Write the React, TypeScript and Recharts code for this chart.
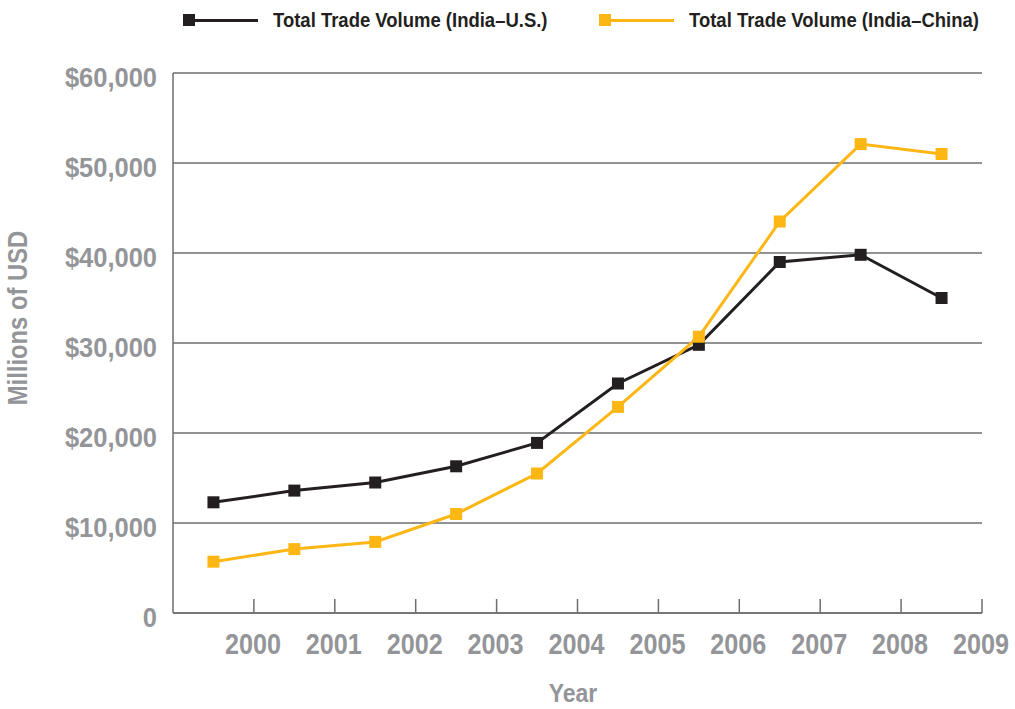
import React from 'react';
import { LineChart, Line, XAxis, YAxis, CartesianGrid } from 'recharts';

const periods = [1999.5, 2000.5, 2001.5, 2002.5, 2003.5, 2004.5, 2005.5, 2006.5, 2007.5, 2008.5];
const indiaUS = [12300, 13600, 14500, 16300, 18900, 25500, 29800, 39000, 39800, 35000];
const indiaChina = [5700, 7100, 7900, 11000, 15500, 22900, 30700, 43500, 52100, 51000];
const yearTicks = [2000, 2001, 2002, 2003, 2004, 2005, 2006, 2007, 2008, 2009];
const valueTicks = [0, 10000, 20000, 30000, 40000, 50000, 60000];

const data = periods.map((p, i) => ({ period: p, us: indiaUS[i], china: indiaChina[i] }));

const FONT = '"Liberation Sans", Arial, Helvetica, sans-serif';
const GRAY = '#939598';
const BLACK = '#231f20';
const YELLOW = '#fdb714';
const GRID = '#6d6e71';

const fmtMoney = (v: number) => (v === 0 ? '0' : '$' + v.toLocaleString('en-US'));

const SquareDot = (color: string) => (props: any) => {
  const { cx, cy, index } = props;
  if (cx == null || cy == null) return null;
  return <rect key={index} x={cx - 6} y={cy - 6} width={12} height={12} fill={color} />;
};

// narrow bold text, squeezed horizontally
const NarrowText = ({ x, y, sx, size, anchor, fill, children }: any) => (
  <text
    transform={`translate(${x},${y}) scale(${sx},1)`}
    textAnchor={anchor}
    fill={fill}
    fontFamily={FONT}
    fontWeight="bold"
    fontSize={size}
  >
    {children}
  </text>
);

const YearTick = (props: any) => {
  const { x, y, payload } = props;
  return (
    <g>
      <line x1={x} y1={y} x2={x} y2={y - 14} stroke={GRID} strokeWidth={1.5} />
      <NarrowText x={x - 1} y={y + 41} sx={0.84} size={30} anchor="middle" fill={GRAY}>
        {payload.value}
      </NarrowText>
    </g>
  );
};

const ValueTick = (props: any) => {
  const { x, y, payload } = props;
  return (
    <NarrowText x={x - 16} y={y + 14} sx={0.91} size={28} anchor="end" fill={GRAY}>
      {fmtMoney(payload.value)}
    </NarrowText>
  );
};

const LegendItem = ({ color, label, left }: { color: string; label: string; left: number }) => (
  <div style={{ position: 'absolute', left, top: 7, display: 'flex', alignItems: 'center', height: 26 }}>
    <div style={{ width: 12, height: 12, background: color }} />
    <div style={{ width: 63, height: 3, background: color }} />
    <span
      style={{
        marginLeft: 15,
        fontFamily: FONT,
        fontWeight: 'bold',
        fontSize: 21,
        color: BLACK,
        whiteSpace: 'nowrap',
        display: 'inline-block',
        transform: 'scaleX(0.88)',
        transformOrigin: 'left center',
      }}
    >
      {label}
    </span>
  </div>
);

export default function App() {
  return (
    <div style={{ position: 'absolute', left: 0, top: 0, width: 1015, height: 709, background: '#fff', overflow: 'hidden' }}>
      <LineChart width={1015} height={709} data={data} margin={{ top: 73, right: 33, bottom: 0, left: 0 }}>
        <CartesianGrid vertical={false} stroke={GRID} strokeWidth={1.5} />
        <XAxis
          dataKey="period"
          type="number"
          domain={[1999, 2009]}
          ticks={yearTicks}
          interval={0}
          height={96}
          tickSize={0}
          tickMargin={0}
          tickLine={false}
          axisLine={{ stroke: GRID, strokeWidth: 1.5 }}
          tick={<YearTick />}
        />
        <YAxis
          type="number"
          domain={[0, 60000]}
          ticks={valueTicks}
          interval={0}
          width={173}
          tickSize={0}
          tickMargin={0}
          tickLine={false}
          axisLine={{ stroke: GRID, strokeWidth: 1.5 }}
          tick={<ValueTick />}
        />
        <Line dataKey="us" stroke={BLACK} strokeWidth={3} dot={SquareDot(BLACK)} isAnimationActive={false} />
        <Line dataKey="china" stroke={YELLOW} strokeWidth={3} dot={SquareDot(YELLOW)} isAnimationActive={false} />
      </LineChart>
      <LegendItem color={BLACK} label="Total Trade Volume (India–U.S.)" left={183} />
      <LegendItem color={YELLOW} label="Total Trade Volume (India–China)" left={599} />
      <div
        style={{
          position: 'absolute',
          left: 18,
          top: 318,
          transform: 'translate(-50%, -50%) rotate(-90deg) scaleX(0.85)',
          whiteSpace: 'nowrap',
          fontFamily: FONT,
          fontWeight: 'bold',
          fontSize: 28,
          color: GRAY,
        }}
      >
        Millions of USD
      </div>
      <div
        style={{
          position: 'absolute',
          left: 573,
          top: 693,
          transform: 'translate(-50%, -50%) scaleX(0.92)',
          whiteSpace: 'nowrap',
          fontFamily: FONT,
          fontWeight: 'bold',
          fontSize: 25,
          color: GRAY,
        }}
      >
        Year
      </div>
    </div>
  );
}
